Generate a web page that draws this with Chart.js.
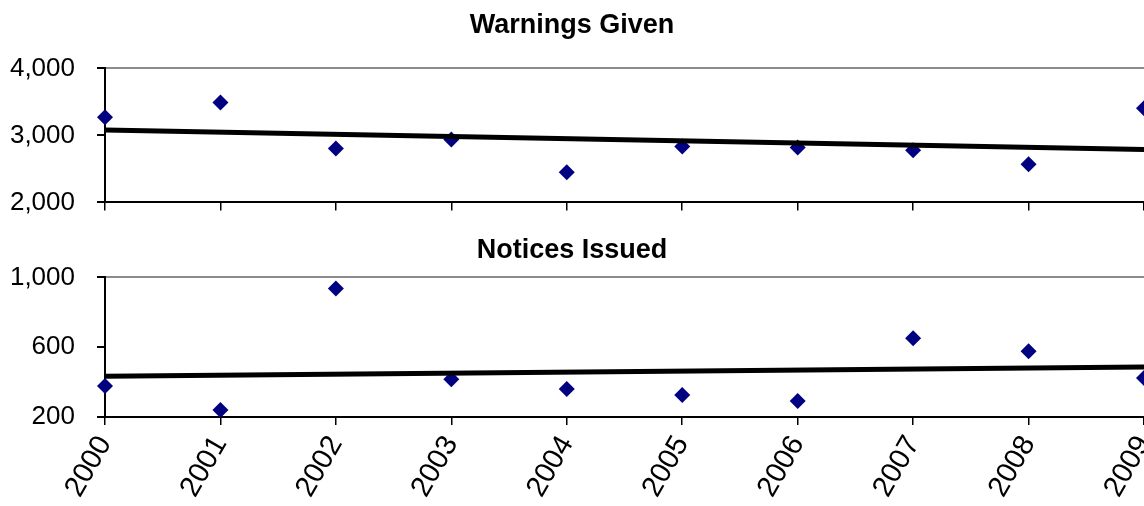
<!DOCTYPE html>
<html>
<head>
<meta charset="utf-8">
<script src="https://cdn.jsdelivr.net/npm/chart.js@4/dist/chart.umd.min.js"></script>
<style>
  body { margin: 0; background: #fff; overflow: hidden; }
  .panel { position: absolute; left: 0; }
</style>
</head>
<body>
<div class="panel" style="top:0"><canvas id="warnChart" width="1144" height="240"></canvas></div>
<div class="panel" style="top:222px"><canvas id="noticeChart" width="1144" height="284"></canvas></div>
<script>
// data
let years = ['2000', '2001', '2002', '2003', '2004', '2005', '2006', '2007', '2008', '2009'];
let warnings = [3270, 3490, 2805, 2940, 2450, 2835, 2820, 2780, 2570, 3405];
let notices = [377, 240, 937, 417, 360, 326, 291, 651, 577, 423];
// linear trend line end points (2000 and 2009)
let warnTrend = [3080, 2790];
let noticeTrend = [434, 486];
let warnTicks = [2000, 3000, 4000];
let noticeTicks = [200, 600, 1000];

let fontName = "'Liberation Sans', Arial, sans-serif";
Chart.defaults.font.family = fontName;
Chart.defaults.color = '#000';

function trendData(ends) {
    return [{x: years[0], y: ends[0]}, {x: years[years.length - 1], y: ends[1]}];
}

function makePanel(canvasId, title, values, trend, ticks, titlePad, xHeight, showYears) {
    let yMin = ticks[0];
    let yMax = ticks[ticks.length - 1];
    return new Chart(document.getElementById(canvasId), {
        type: 'line',
        data: {
            labels: years,
            datasets: [
                {
                    label: 'trend',
                    data: trendData(trend),
                    borderColor: '#000',
                    borderWidth: 5,
                    pointRadius: 0,
                    fill: false
                },
                {
                    label: title,
                    data: values,
                    showLine: false,
                    pointStyle: 'rectRot',
                    pointRadius: 8,
                    pointBackgroundColor: '#000080',
                    pointBorderColor: '#000080',
                    pointBorderWidth: 0,
                    clip: false
                }
            ]
        },
        options: {
            responsive: false,
            animation: false,
            devicePixelRatio: 1,
            layout: {autoPadding: false, padding: 0},
            plugins: {
                legend: {display: false},
                tooltip: {enabled: false},
                title: {
                    display: true,
                    text: title,
                    font: {size: 27, weight: 'bold', family: fontName, lineHeight: 1.2},
                    color: '#000',
                    padding: titlePad
                }
            },
            scales: {
                x: {
                    type: 'category',
                    offset: false,
                    grid: {
                        display: true,
                        drawOnChartArea: false,
                        tickLength: 8,
                        tickColor: '#000',
                        lineWidth: 1.5
                    },
                    border: {color: '#000', width: 2},
                    ticks: {
                        display: showYears,
                        autoSkip: false,
                        minRotation: 60,
                        maxRotation: 60,
                        padding: 5,
                        font: {size: 29}
                    },
                    afterFit: function (s) {
                        s.height = xHeight;
                        s.paddingRight = 0;
                        s.paddingLeft = 0;
                    }
                },
                y: {
                    min: yMin,
                    max: yMax,
                    afterBuildTicks: function (s) {
                        s.ticks = ticks.map(v => ({value: v}));
                    },
                    grid: {
                        color: ctx => (ctx.tick && ctx.tick.value === yMax) ? '#8c8c8c' : 'rgba(0,0,0,0)',
                        lineWidth: 2,
                        tickLength: 8,
                        tickColor: '#000'
                    },
                    border: {color: '#000', width: 2},
                    ticks: {
                        padding: 22,
                        font: {size: 26},
                        callback: v => v.toLocaleString('en-US')
                    },
                    afterFit: function (s) {
                        s.width = 105;
                    }
                }
            }
        }
    });
}

let warnChart = makePanel('warnChart', 'Warnings Given', warnings, warnTrend, warnTicks,
    {top: 9, bottom: 27}, 20, false);
let noticeChart = makePanel('noticeChart', 'Notices Issued', notices, noticeTrend, noticeTicks,
    {top: 12, bottom: 11}, 89, true);
</script>
</body>
</html>
